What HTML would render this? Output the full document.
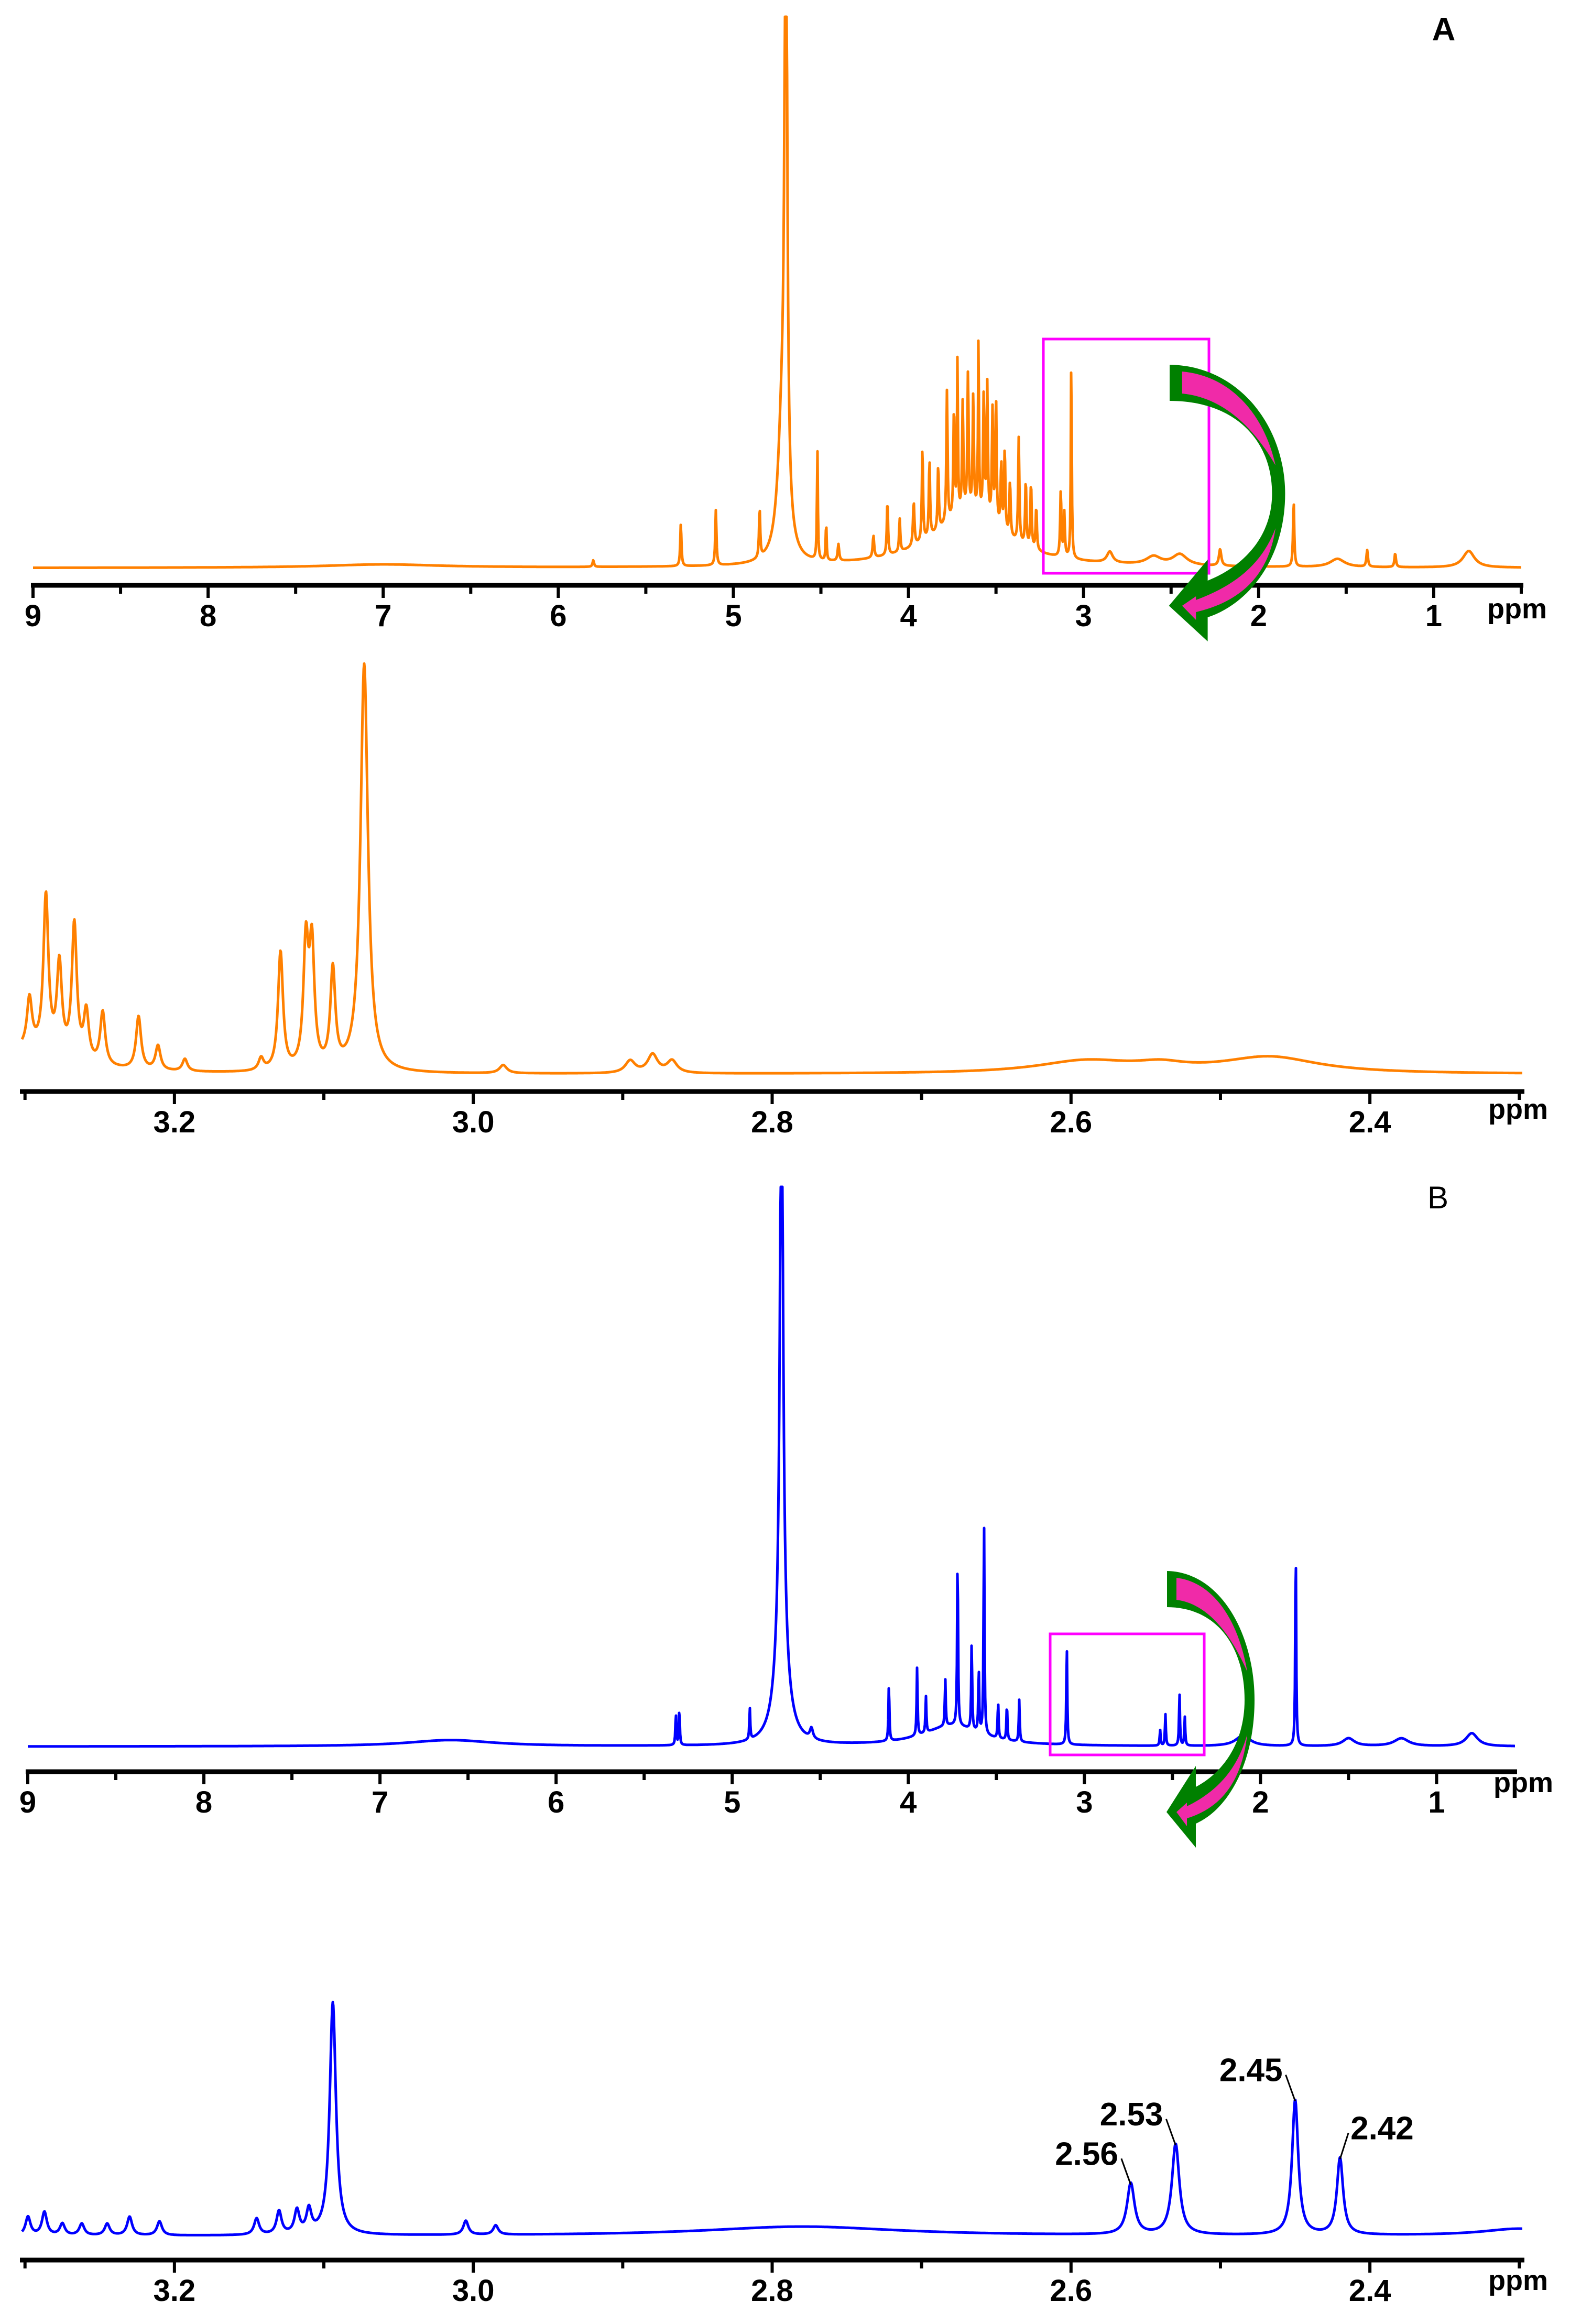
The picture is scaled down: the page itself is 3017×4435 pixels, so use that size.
<!DOCTYPE html>
<html><head><meta charset="utf-8"><style>
html,body{margin:0;padding:0;background:#fff;}
svg{display:block;}
text{font-family:"Liberation Sans",Arial,sans-serif;}
</style></head>
<body>
<svg id="fig" width="3017" height="4435" viewBox="0 0 3017 4435" xmlns="http://www.w3.org/2000/svg">
<rect width="3017" height="4435" fill="#fff"/>
<g id="layer"></g>
</svg>
<script>
// ---- Panel A full spectrum (ppm, relative height, half-width ppm)
const aFullPpm = [5.80,5.30,5.10,4.85,4.70,4.72,4.52,4.47,4.40,4.20,4.12,4.05,3.97,3.92,3.88,3.83,3.78,3.74,3.72,3.69,3.66,3.63,3.60,3.57,3.55,3.52,3.50,3.47,3.45,3.42,3.37,3.33,3.30,3.27,3.65,3.13,3.11,3.07,2.85,2.60,2.45,2.22,1.80,1.55,1.38,1.22,0.80,7.0];
const aFullH   = [0.012,0.077,0.10,0.09,1.3,0.25,0.20,0.07,0.03,0.04,0.10,0.06,0.08,0.17,0.14,0.12,0.24,0.20,0.28,0.20,0.25,0.21,0.32,0.22,0.24,0.20,0.23,0.12,0.15,0.10,0.19,0.12,0.12,0.08,0.10,0.12,0.08,0.37,0.02,0.015,0.02,0.03,0.12,0.015,0.03,0.025,0.03,0.006];
const aFullW   = [0.005,0.004,0.004,0.004,0.008,0.03,0.003,0.003,0.005,0.005,0.004,0.004,0.005,0.004,0.004,0.004,0.004,0.004,0.003,0.004,0.004,0.004,0.003,0.004,0.004,0.004,0.004,0.004,0.004,0.004,0.004,0.004,0.004,0.004,0.25,0.004,0.004,0.003,0.02,0.05,0.05,0.008,0.004,0.05,0.005,0.005,0.04,0.4];
// ---- Panel A zoom (3.3-2.3 ppm)
const aZoomPpm = [3.297,3.286,3.277,3.267,3.259,3.248,3.224,3.211,3.193,3.142,3.129,3.112,3.108,3.094,3.073,2.98,2.895,2.88,2.867,2.59,2.54,2.467,3.30];
const aZoomH   = [0.12,0.38,0.22,0.33,0.12,0.13,0.13,0.06,0.03,0.03,0.29,0.30,0.29,0.24,1.0,0.02,0.03,0.045,0.03,0.03,0.015,0.04,0.06];
const aZoomW   = [0.002,0.002,0.002,0.002,0.002,0.002,0.002,0.002,0.002,0.002,0.002,0.002,0.002,0.002,0.003,0.003,0.004,0.004,0.004,0.04,0.02,0.04,0.03];
// ---- Panel B full spectrum
const bFullPpm = [6.6,5.32,5.30,4.90,4.72,4.72,4.55,4.11,3.95,3.90,3.79,3.72,3.64,3.60,3.57,3.49,3.44,3.37,3.75,3.10,2.57,2.54,2.46,2.43,2.10,1.80,1.50,1.20,0.80];
const bFullH   = [0.012,0.06,0.07,0.06,1.2,0.2,0.02,0.11,0.13,0.07,0.09,0.33,0.17,0.12,0.41,0.07,0.07,0.08,0.04,0.19,0.03,0.06,0.10,0.055,0.02,0.39,0.015,0.015,0.025];
const bFullW   = [0.3,0.003,0.003,0.003,0.01,0.04,0.01,0.003,0.003,0.003,0.003,0.003,0.003,0.003,0.003,0.003,0.003,0.003,0.2,0.003,0.003,0.003,0.003,0.003,0.05,0.003,0.04,0.05,0.04];
// ---- Panel B zoom (3.3-2.3 ppm)
const bZoomPpm = [3.298,3.287,3.275,3.262,3.245,3.23,3.21,3.145,3.13,3.118,3.11,3.094,3.005,2.985,2.78,2.56,2.53,2.45,2.42,2.30];
const bZoomH   = [0.08,0.10,0.05,0.05,0.05,0.08,0.06,0.07,0.10,0.10,0.10,1.0,0.06,0.04,0.04,0.22,0.39,0.58,0.33,0.03];
const bZoomW   = [0.002,0.002,0.002,0.002,0.002,0.002,0.002,0.002,0.002,0.002,0.002,0.0025,0.002,0.002,0.08,0.003,0.003,0.0025,0.0025,0.03];
// ---- Peak labels for panel B zoom
const bLabelText = ["2.56","2.53","2.45","2.42"];
const bLabelPpm  = [2.56,2.53,2.45,2.42];

const NS="http://www.w3.org/2000/svg";
const layer=document.getElementById('layer');
function mk(tag,attrs,parent){const e=document.createElementNS(NS,tag);for(const k in attrs)e.setAttribute(k,attrs[k]);(parent||layer).appendChild(e);return e;}

function spectrum(p,ppmArr,hArr,wArr){
  const g=mk('g',{});
  
  
  const xs=v=>p.x0+(p.p0-v)/(p.p0-p.p1)*(p.x1-p.x0);
  const ys=h=>p.base-h*p.unit;
  p.xs=xs;p.ys=ys;
  let pts=[];
  for(let x=p.x0;x<=p.x1;x+=1){
    const v=p.p0-(x-p.x0)/(p.x1-p.x0)*(p.p0-p.p1);
    let s=0;
    for(let i=0;i<ppmArr.length;i++){const d=v-ppmArr[i],w=wArr[i];s+=hArr[i]*w*w/(d*d+w*w);}
    let y=ys(s); if(y<p.clip)y=p.clip;
    pts.push(x+','+y.toFixed(1));
  }
  const pl=mk('polyline',{points:pts.join(' '),fill:'none',stroke:p.color,'stroke-width':5,'stroke-linejoin':'round'},g);
  
  
  const ax=mk('g',{});
  
  
  mk('line',{x1:p.x0-4,x2:p.x1+4,y1:p.axY,y2:p.axY,stroke:'#000','stroke-width':9},ax);
  for(let t=p.tickStart;t>=p.p1-1e-6;t-=p.minor){
    const x=xs(t);
    const major=Math.abs(t/p.major-Math.round(t/p.major))<1e-6;
    mk('line',{x1:x,x2:x,y1:p.axY,y2:p.axY+(major?24:16),stroke:'#000','stroke-width':6},ax);
    if(major){
      const tx=mk('text',{x:x,y:p.axY+78,'text-anchor':'middle','font-size':58,'font-weight':'bold'},ax);
      tx.textContent=p.fmt(t);
      
      
    }
  }
  const u=mk('text',{x:p.ppmX,y:p.ppmY,'font-size':54,'font-weight':'bold'},ax);
  u.textContent='ppm';
  
  
  return p;
}

spectrum({name:'spectrum-a-full',x0:63,x1:2903,p0:9,p1:0.5,base:1084,unit:1052,clip:32,color:'#ff8000',axY:1117,tickStart:9,minor:0.5,major:1,fmt:t=>String(Math.round(t)),ppmX:2838,ppmY:1180},aFullPpm,aFullH,aFullW);
spectrum({name:'spectrum-a-zoom',x0:42,x1:2905,p0:3.302,p1:2.298,base:2050,unit:779,clip:1240,color:'#ff8000',axY:2083,tickStart:3.3,minor:0.1,major:0.2,fmt:t=>t.toFixed(1),ppmX:2840,ppmY:2135},aZoomPpm,aZoomH,aZoomW);
spectrum({name:'spectrum-b-full',x0:53,x1:2891,p0:9,p1:0.555,base:3333,unit:1000,clip:2265,color:'#0000ff',axY:3381,tickStart:9,minor:0.5,major:1,fmt:t=>String(Math.round(t)),ppmX:2850,ppmY:3420},bFullPpm,bFullH,bFullW);
const bz=spectrum({name:'spectrum-b-zoom',x0:42,x1:2905,p0:3.302,p1:2.298,base:4267,unit:444,clip:3800,color:'#0000ff',axY:4313,tickStart:3.3,minor:0.1,major:0.2,fmt:t=>t.toFixed(1),ppmX:2840,ppmY:4370},bZoomPpm,bZoomH,bZoomW);

for(let i=0;i<bLabelPpm.length;i++){
  const j=bZoomPpm.indexOf(bLabelPpm[i]);
  const px=bz.xs(bLabelPpm[i]), py=bz.ys(bZoomH[j]);
  const ln=mk('line',{x1:px,y1:py,x2:px+(i==3?16:-18),y2:py-50,stroke:'#000','stroke-width':3});
  
  
  const t=mk('text',{x:px+(i==3?20:-24),y:py-38,'text-anchor':i==3?'start':'end','font-size':62,'font-weight':'bold'});
  t.textContent=bLabelText[i];
  
  
}

const boxA=mk('rect',{x:1991,y:647,width:316,height:447,fill:'none',stroke:'#ff00ff','stroke-width':5});


const boxB=mk('rect',{x:2004,y:3118,width:294,height:231,fill:'none',stroke:'#ff00ff','stroke-width':5});



function arrow(name,x0,sx,dy){
  const X=x=>(x0+(x-2227)*sx).toFixed(1), Y=y=>(y+dy).toFixed(1);
  const g=mk('g',{});
  
  
  const d=`M${X(2227)},${Y(2998)} C${X(2330)},${Y(3000)} ${X(2394)},${Y(3120)} ${X(2394)},${Y(3244)} C${X(2394)},${Y(3370)} ${X(2340)},${Y(3455)} ${X(2282)},${Y(3480)} L${X(2282)},${Y(3526)} L${X(2226)},${Y(3458)} L${X(2282)},${Y(3370)} L${X(2282)},${Y(3410)} C${X(2330)},${Y(3385)} ${X(2375)},${Y(3330)} ${X(2375)},${Y(3244)} C${X(2375)},${Y(3140)} ${X(2320)},${Y(3067)} ${X(2227)},${Y(3067)} Z`;
  mk('path',{d:d,fill:'#008000'},g);
  const d2=`M${X(2245)},${Y(3011)} C${X(2320)},${Y(3020)} ${X(2365)},${Y(3100)} ${X(2380)},${Y(3190)} C${X(2345)},${Y(3110)} ${X(2300)},${Y(3060)} ${X(2245)},${Y(3053)} Z M${X(2380)},${Y(3310)} C${X(2370)},${Y(3400)} ${X(2330)},${Y(3450)} ${X(2265)},${Y(3470)} L${X(2265)},${Y(3485)} L${X(2245)},${Y(3458)} L${X(2265)},${Y(3440)} L${X(2265)},${Y(3447)} C${X(2320)},${Y(3420)} ${X(2360)},${Y(3380)} ${X(2380)},${Y(3310)} Z`;
  mk('path',{d:d2,fill:'#f02aa8'},g);
}
arrow('zoom-arrow-a',2232,1.32,-2302);
arrow('zoom-arrow-b',2227,1,0);

const tA=mk('text',{x:2755,y:77,'text-anchor':'middle','font-size':62,'font-weight':'bold'});
tA.textContent='A';


const tB=mk('text',{x:2744,y:2306,'text-anchor':'middle','font-size':60});
tB.textContent='B';


</script>
</body></html>
